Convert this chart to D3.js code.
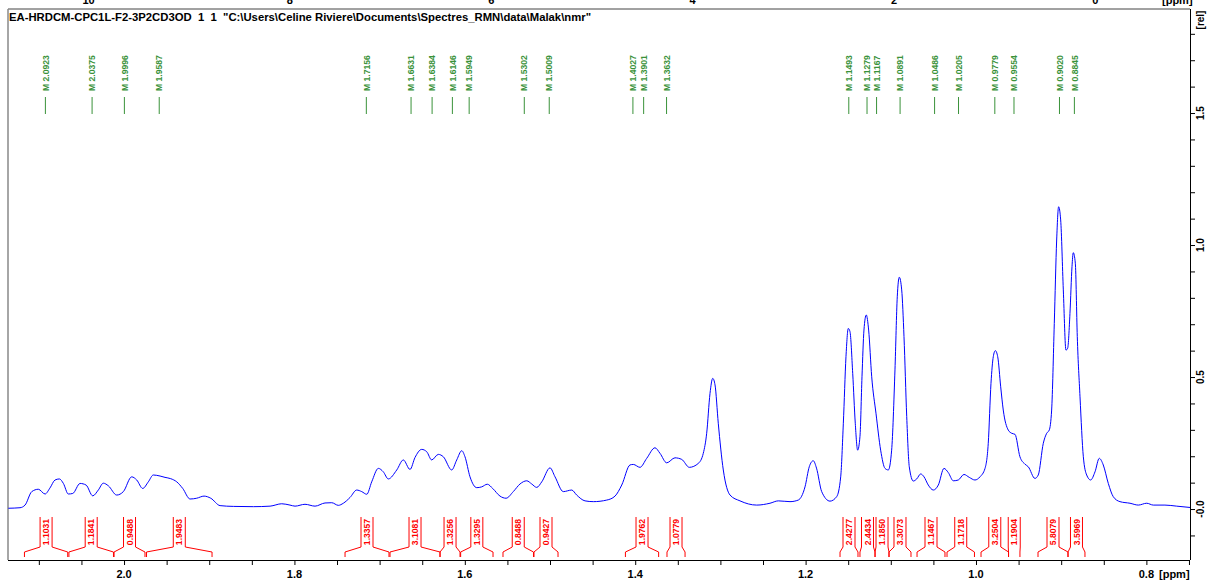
<!DOCTYPE html>
<html><head><meta charset="utf-8">
<script src="https://cdn.jsdelivr.net/npm/d3@7"></script>
<style>
html,body{margin:0;padding:0;background:#fff;}
svg{display:block;}
text{font-family:"Liberation Sans",Arial,sans-serif;white-space:pre;}
</style></head><body>
<svg id="chart" width="1213" height="581"></svg>
<script>
// 1H spectrum trace: chemical shift (ppm) and relative intensity
const shiftPpm = [2.1358,2.1221,2.1162,2.1083,2.1006,2.0927,2.0869,2.0810,2.0759,2.0712,2.0654,2.0602,2.0516,2.0446,2.0367,2.0302,2.0243,2.0184,2.0086,2.0008,
1.9910,1.9851,1.9781,1.9715,1.9656,1.9577,1.9519,1.9452,1.9381,1.9311,1.9225,1.9147,1.9061,1.8982,1.8873,1.8717,1.8482,1.8286,1.8149,1.8052,
1.7993,1.7876,1.7758,1.7641,1.7562,1.7485,1.7426,1.7347,1.7269,1.7210,1.7151,1.7093,1.7015,1.6957,1.6898,1.6799,1.6722,1.6643,1.6585,1.6506,
1.6447,1.6389,1.6311,1.6252,1.6154,1.6095,1.6036,1.5998,1.5939,1.5860,1.5802,1.5736,1.5673,1.5587,1.5516,1.5431,1.5352,1.5273,1.5215,1.5156,
1.5097,1.5000,1.4941,1.4844,1.4745,1.4687,1.4589,1.4492,1.4334,1.4237,1.4158,1.4061,1.4022,1.3944,1.3865,1.3768,1.3709,1.3630,1.3533,1.3454,
1.3365,1.3259,1.3201,1.3161,1.3122,1.3090,1.3063,1.3025,1.2966,1.2887,1.2770,1.2574,1.2418,1.2320,1.2183,1.2086,1.2007,1.1957,1.1910,1.1872,
1.1811,1.1714,1.1635,1.1588,1.1557,1.1526,1.1499,1.1479,1.1447,1.1417,1.1389,1.1362,1.1338,1.1315,1.1288,1.1260,1.1224,1.1174,1.1119,1.1068,
1.1029,1.0990,1.0951,1.0924,1.0900,1.0872,1.0845,1.0813,1.0783,1.0736,1.0696,1.0649,1.0610,1.0560,1.0501,1.0442,1.0376,1.0325,1.0266,1.0208,
1.0141,1.0079,1.0012,0.9953,0.9894,0.9856,0.9824,0.9797,0.9773,0.9745,0.9710,0.9680,0.9621,0.9581,0.9542,0.9484,0.9425,0.9386,0.9308,0.9269,
0.9210,0.9170,0.9140,0.9112,0.9081,0.9053,0.9030,0.9006,0.8975,0.8944,0.8924,0.8897,0.8873,0.8858,0.8834,0.8811,0.8779,0.8740,0.8701,0.8654,
0.8603,0.8553,0.8506,0.8447,0.8389,0.8310,0.8192,0.8095,0.7996,0.7919,0.7782,0.7644,0.7488];
const intensity = [0.003,0.005,0.015,0.066,0.075,0.057,0.080,0.110,0.114,0.097,0.057,0.059,0.097,0.091,0.050,0.072,0.098,0.088,0.053,0.066,
0.122,0.110,0.078,0.103,0.129,0.125,0.120,0.115,0.103,0.078,0.038,0.041,0.049,0.041,0.013,0.010,0.009,0.011,0.020,0.015,
0.011,0.018,0.011,0.023,0.024,0.014,0.022,0.044,0.072,0.066,0.056,0.103,0.154,0.141,0.114,0.148,0.186,0.150,0.195,0.226,
0.217,0.186,0.207,0.198,0.148,0.186,0.221,0.198,0.122,0.081,0.084,0.094,0.078,0.049,0.041,0.066,0.095,0.107,0.095,0.082,
0.103,0.156,0.122,0.066,0.072,0.053,0.031,0.028,0.034,0.049,0.091,0.167,0.169,0.158,0.192,0.232,0.211,0.175,0.194,0.188,
0.158,0.173,0.211,0.287,0.438,0.495,0.470,0.325,0.148,0.053,0.031,0.015,0.022,0.031,0.028,0.034,0.084,0.160,0.183,0.155,
0.066,0.030,0.047,0.122,0.325,0.577,0.684,0.672,0.514,0.325,0.223,0.274,0.501,0.678,0.735,0.678,0.501,0.363,0.223,0.154,
0.148,0.223,0.527,0.804,0.878,0.830,0.653,0.350,0.160,0.106,0.114,0.133,0.122,0.091,0.072,0.091,0.154,0.138,0.107,0.110,
0.131,0.120,0.110,0.122,0.154,0.249,0.476,0.577,0.600,0.577,0.463,0.375,0.299,0.287,0.283,0.198,0.170,0.160,0.116,0.129,
0.249,0.287,0.299,0.375,0.703,1.019,1.145,1.095,0.830,0.602,0.609,0.741,0.918,0.971,0.931,0.653,0.425,0.198,0.129,0.110,
0.141,0.192,0.167,0.097,0.047,0.028,0.022,0.015,0.022,0.015,0.015,0.011,0.006];

// picked peaks (ppm)
const peakPpm = [2.0923,2.0375,1.9996,1.9587,1.7156,1.6631,1.6384,1.6146,1.5949,1.5302,1.5009,
1.4027,1.3901,1.3632,1.1493,1.1279,1.1167,1.0891,1.0486,1.0205,0.9779,0.9554,0.9020,0.8845];

// integral regions (ppm) and their values
const integralFrom = [2.1169,2.0647,2.0117,1.9736,1.7406,1.6878,1.6291,1.6049,1.5552,1.5188,1.4115,1.3627,
1.1596,1.1362,1.1185,1.1021,1.0692,1.0340,0.9941,0.9618,0.9272,0.8920];
const integralTo = [2.0661,2.0124,1.9754,1.8967,1.6890,1.6291,1.6056,1.5669,1.5194,1.4906,1.3725,1.3415,
1.1385,1.1185,1.1021,1.0763,1.0364,1.0018,0.9618,0.9484,0.8920,0.8721];
const integralValue = [1.1031,1.1841,0.9488,1.9483,1.3357,3.1081,1.3256,1.3295,0.8488,0.9427,1.9762,1.0779,
2.4277,2.4434,1.1850,3.3073,1.1467,1.1718,3.2504,1.1904,5.8079,3.5969];

// axis labels
const ppmTickLabels = ["2.0","1.8","1.6","1.4","1.2","1.0","0.8"];
const relTickLabels = ["-0.0","0.5","1.0","1.5"];
const overviewTickLabels = ["10","8","6","4","2","0"];
const titleText = 'EA-HRDCM-CPC1L-F2-3P2CD3OD  1  1  "C:\\Users\\Celine Riviere\\Documents\\Spectres_RMN\\data\\Malak\\nmr"';

const svg = d3.select("#chart");
const L = 8, R = 1190, T = 9, B = 560;

const x = d3.scaleLinear().domain([2.1362, 0.7488]).range([L, R]);
const y = d3.scaleLinear().domain([-0.193, 1.894]).range([B, T]);
// full spectral width shown along the top edge
const xOverview = d3.scaleLinear().domain([10.80, -0.94]).range([L, R]);

const GREEN = "#3a923a", RED = "#ff0000", BLUE = "#0000ff";

// overview labels (clipped at the top of the window)
svg.append("g").selectAll("text").data(overviewTickLabels).join("text")
  .attr("x", d => xOverview(+d)).attr("y", 4)
  .attr("text-anchor", "middle").attr("font-size", 11).attr("font-weight", "bold")
  .text(d => d);
svg.append("text").attr("x", 1162).attr("y", 4).attr("font-size", 11)
  .attr("font-weight", "bold").text("[ppm]");

// frame
svg.append("line").attr("x1", L).attr("x2", R).attr("y1", T).attr("y2", T)
  .attr("stroke", "#444").attr("stroke-width", 1);
svg.append("line").attr("x1", L).attr("x2", L).attr("y1", T).attr("y2", B)
  .attr("stroke", "#888").attr("stroke-width", 1.5);

// title
svg.append("text").attr("x", 9).attr("y", 21).attr("font-size", 11.3)
  .attr("font-weight", "bold").text(titleText);

// spectrum
const pts = shiftPpm.map((p, i) => [p, intensity[i]]);
const line = d3.line().x(d => x(d[0])).y(d => y(d[1])).curve(d3.curveMonotoneX);
svg.append("path").datum(pts).attr("d", line).attr("fill", "none")
  .attr("stroke", BLUE).attr("stroke-width", 1);

// peak markers
const pk = svg.append("g");
pk.selectAll("line").data(peakPpm).join("line")
  .attr("x1", d => x(d)).attr("x2", d => x(d)).attr("y1", 97).attr("y2", 114)
  .attr("stroke", GREEN).attr("stroke-width", 1);
pk.selectAll("text").data(peakPpm).join("text")
  .attr("transform", d => `translate(${x(d) + 3.2},91) rotate(-90)`)
  .attr("font-size", 8.6).attr("font-weight", "bold").attr("fill", GREEN)
  .text(d => "M " + d3.format(".4f")(d));

// integrals
const ig = svg.append("g");
integralValue.forEach((v, i) => {
  const x1 = x(integralFrom[i]), x2 = x(integralTo[i]);
  const cx = (x1 + x2) / 2, vl = cx - 6, vr = cx + 6;
  const p = d3.path();
  p.moveTo(x1, 557); p.lineTo(x1, 552); p.lineTo(vl, 547); p.lineTo(vl, 517);
  p.moveTo(vr, 517); p.lineTo(vr, 547); p.lineTo(x2, 552); p.lineTo(x2, 557);
  ig.append("path").attr("d", p.toString()).attr("fill", "none")
    .attr("stroke", RED).attr("stroke-width", 1);
  ig.append("text").attr("transform", `translate(${cx + 3.2},532) rotate(-90)`)
    .attr("text-anchor", "middle").attr("font-size", 8.6).attr("font-weight", "bold")
    .attr("fill", RED).text(d3.format(".4f")(v));
});

// bottom ppm axis
const xAxis = d3.axisBottom(x).tickValues(d3.range(2.10, 0.749, -0.05)).tickSize(5).tickFormat("");
const gx = svg.append("g").attr("transform", `translate(0,${B})`).call(xAxis);
gx.select(".domain").attr("d", `M${L},0.5H${R}`).attr("stroke", "#000");
gx.selectAll(".tick line").attr("stroke", "#000");
svg.append("g").selectAll("text").data(ppmTickLabels).join("text")
  .attr("x", d => x(+d)).attr("y", 578).attr("text-anchor", "middle")
  .attr("font-size", 11).attr("font-weight", "bold").text(d => d);
svg.append("text").attr("x", 1159).attr("y", 578).attr("font-size", 11)
  .attr("font-weight", "bold").text("[ppm]");

// right intensity axis
const yAxis = d3.axisRight(y).tickValues(d3.range(-0.1, 1.85, 0.1)).tickSize(5).tickFormat("");
const gy = svg.append("g").attr("transform", `translate(${R},0)`).call(yAxis);
gy.select(".domain").attr("d", `M0.5,${T}V${B}`).attr("stroke", "#000");
gy.selectAll(".tick line").attr("stroke", "#000");
svg.append("g").selectAll("text").data(relTickLabels).join("text")
  .attr("transform", d => `translate(1204,${y(+d)}) rotate(-90)`)
  .attr("text-anchor", "middle").attr("font-size", 10).attr("font-weight", "bold")
  .text(d => d);
svg.append("text").attr("transform", `translate(1204,20) rotate(-90)`)
  .attr("text-anchor", "middle").attr("font-size", 10).attr("font-weight", "bold")
  .text("[rel]");
</script>
</body></html>
